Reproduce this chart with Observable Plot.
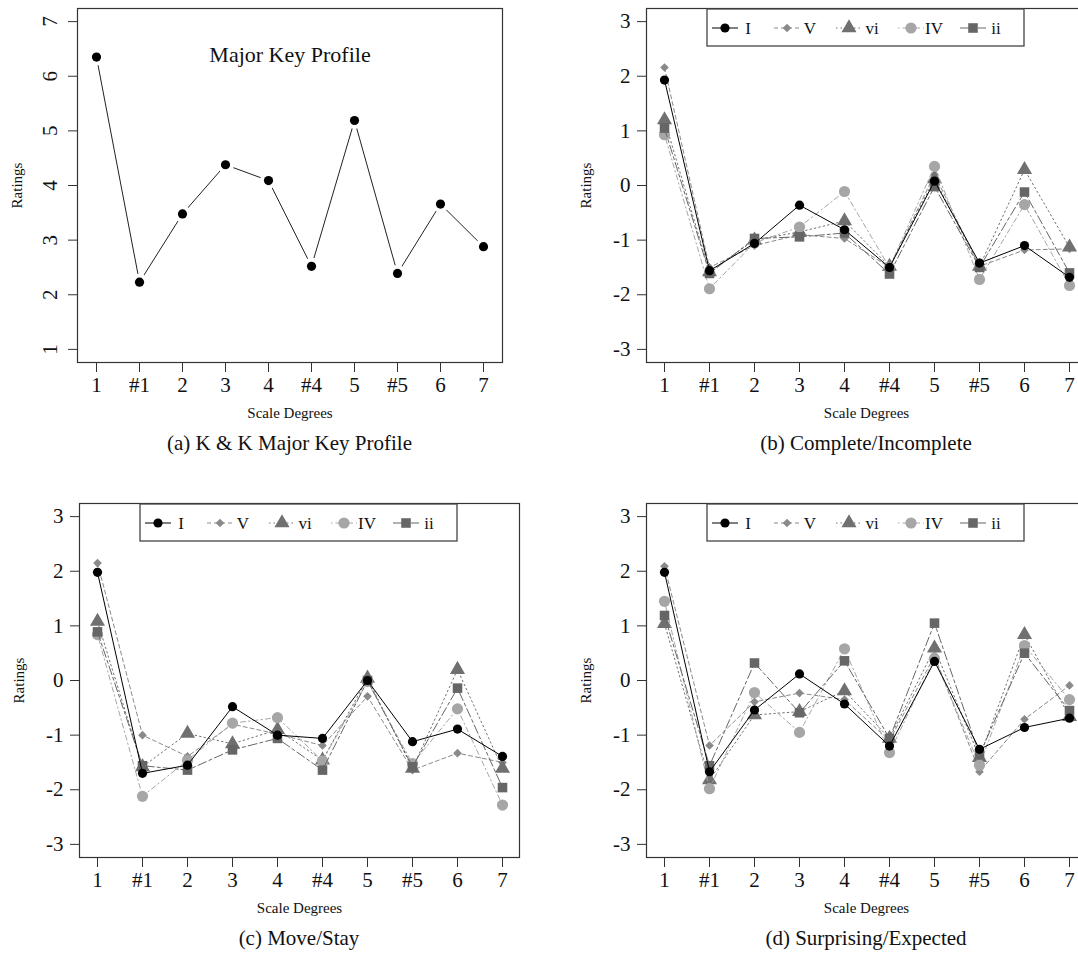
<!DOCTYPE html>
<html><head><meta charset="utf-8">
<script src="https://cdn.jsdelivr.net/npm/d3@7"></script>
<script src="https://cdn.jsdelivr.net/npm/@observablehq/plot@0.6"></script>
<style>
html,body{margin:0;padding:0;background:#fff;overflow:hidden;width:1078px;height:953px;}
#root{position:relative;width:1078px;height:953px;overflow:hidden;font-family:"Liberation Serif","Times New Roman",serif;color:#111;}
.panel{position:absolute;}
.panel svg{max-width:none !important;display:block;}
.cap{position:absolute;text-align:center;font-size:21px;line-height:24px;white-space:nowrap;width:440px;}
</style></head><body><div id="root"></div>
<script>
// ---------- data ----------
const degrees = ["1","#1","2","3","4","#4","5","#5","6","7"];
const seriesNames = ["I","V","vi","IV","ii"];

// (a) Krumhansl & Kessler major key profile
const kkMajor = [6.35, 2.23, 3.48, 4.38, 4.09, 2.52, 5.19, 2.39, 3.66, 2.88];

// (b) Complete/Incomplete
const completeI  = [1.93, -1.56, -1.06, -0.36, -0.81, -1.50,  0.08, -1.42, -1.10, -1.68];
const completeV  = [2.16, -1.50, -1.10, -0.90, -0.97, -1.50,  0.20, -1.48, -1.18, -1.16];
const completeVi = [1.20, -1.58, -1.00, -0.85, -0.65, -1.48,  0.12, -1.48,  0.29, -1.13];
const completeIV = [0.93, -1.89, -1.05, -0.76, -0.11, -1.50,  0.35, -1.72, -0.35, -1.83];
const completeIi = [1.05, -1.61, -0.97, -0.94, -0.87, -1.62, -0.02, -1.50, -0.12, -1.60];

// (c) Move/Stay
const moveI  = [1.98, -1.70, -1.55, -0.48, -1.00, -1.06,  0.00, -1.12, -0.89, -1.39];
const moveV  = [2.15, -1.00, -1.39, -0.80, -0.98, -1.19, -0.29, -1.64, -1.33, -1.50];
const moveVi = [1.08, -1.58, -0.97, -1.16, -0.90, -1.46,  0.04, -1.61,  0.20, -1.61];
const moveIV = [0.84, -2.12, -1.46, -0.78, -0.68, -1.47, -0.02, -1.52, -0.52, -2.28];
const moveIi = [0.89, -1.56, -1.64, -1.27, -1.06, -1.64,  0.00, -1.58, -0.14, -1.96];

// (d) Surprising/Expected
const surpI  = [1.98, -1.67, -0.54,  0.12, -0.43, -1.20, 0.35, -1.26, -0.86, -0.69];
const surpV  = [2.09, -1.19, -0.39, -0.23, -0.35, -1.10, 0.45, -1.67, -0.71, -0.09];
const surpVi = [1.04, -1.82, -0.63, -0.57, -0.19, -1.06, 0.59, -1.41,  0.84, -0.66];
const surpIV = [1.45, -1.98, -0.22, -0.95,  0.58, -1.32, 0.40, -1.55,  0.64, -0.35];
const surpIi = [1.19, -1.56,  0.32, -0.59,  0.36, -1.06, 1.05, -1.36,  0.50, -0.55];

const ticksA = [1, 2, 3, 4, 5, 6, 7];
const ticksBCD = [-3, -2, -1, 0, 1, 2, 3];

// ---------- styles ----------
const FONT = '"Liberation Serif","Times New Roman",serif';
const styles = {
  I:  {color: "#000000", symbol: "circle",   d3sym: d3.symbolCircle,   r: 4.6, dash: null},
  V:  {color: "#8a8a8a", symbol: "diamond2", d3sym: d3.symbolDiamond2, r: 3.9, dash: "4,3"},
  vi: {color: "#707070", symbol: "triangle", d3sym: d3.symbolTriangle, r: 5.6, dash: "1.5,3"},
  IV: {color: "#a6a6a6", symbol: "circle",   d3sym: d3.symbolCircle,   r: 5.6, dash: "1.5,3,5,3"},
  ii: {color: "#666666", symbol: "square",   d3sym: d3.symbolSquare,   r: 5.4, dash: "9,3,3,3"}
};
const drawOrder = ["V", "vi", "IV", "ii", "I"];

function table(values) {
  return degrees.map((d, i) => ({degree: d, rating: values[i]}));
}

const FRAME_W_A = 425, FRAME_W = 440, FRAME_H = 354, ML = 77, MT = 8, H = 430;

function basePlot({width, frameW, yDomain, yTicks, rotateY, marks}) {
  return Plot.plot({
    width, height: H,
    marginLeft: ML, marginRight: width - ML - frameW,
    marginTop: MT, marginBottom: H - MT - FRAME_H,
    style: {fontFamily: FONT, background: "transparent", color: "#111"},
    x: {type: "point", domain: degrees, padding: 0.36},
    y: {domain: yDomain},
    marks: [
      Plot.axisX({tickSize: 10, tickPadding: 5, fontSize: 21, label: null, stroke: "#333"}),
      Plot.axisY({ticks: yTicks, tickSize: 9, tickPadding: rotateY ? 12 : 7, fontSize: 21,
        tickRotate: rotateY ? -90 : 0, tickFormat: d => String(d), label: null, stroke: "#333"}),
      Plot.frame({stroke: "#333", strokeWidth: 1.2}),
      Plot.text(["Scale Degrees"], {frameAnchor: "bottom", lineAnchor: "middle", textAnchor: "middle",
        dy: 51, fontSize: 15, text: d => d}),
      Plot.text(["Ratings"], {frameAnchor: "left", lineAnchor: "middle", textAnchor: "middle",
        dx: -60, rotate: -90, fontSize: 15, text: d => d}),
      ...marks
    ]
  });
}

function addLegend(svg) {
  const g = d3.select(svg).append("g").attr("font-family", FONT);
  const x0 = ML + 61, y0 = MT + 1, w = 317, h = 37;
  g.append("rect").attr("x", x0).attr("y", y0).attr("width", w).attr("height", h)
    .attr("fill", "white").attr("stroke", "#444").attr("stroke-width", 1.3);
  seriesNames.forEach((name, i) => {
    const s = styles[name];
    const cx = x0 + 18 + 62 * i, cy = y0 + 19;
    g.append("line").attr("x1", cx - 13).attr("x2", cx + 13).attr("y1", cy).attr("y2", cy)
      .attr("stroke", s.color).attr("stroke-width", 1).attr("stroke-dasharray", s.dash);
    g.append("path").attr("transform", `translate(${cx},${cy})`)
      .attr("d", d3.symbol(s.d3sym, Math.PI * s.r * s.r)()).attr("fill", s.color);
    g.append("text").attr("x", cx + 23).attr("y", cy).attr("dy", "0.35em")
      .attr("font-size", 17).attr("fill", "#111").text(name);
  });
}

function seriesPanel(valuesBySeries) {
  const marks = [];
  for (const name of drawOrder) {
    const s = styles[name];
    const data = table(valuesBySeries[name]);
    marks.push(Plot.line(data, {x: "degree", y: "rating", stroke: s.color, strokeWidth: 1,
      strokeDasharray: s.dash || undefined}));
    marks.push(Plot.dot(data, {x: "degree", y: "rating", symbol: s.symbol, r: s.r, fill: s.color, stroke: "none"}));
  }
  const svg = basePlot({width: 560, frameW: FRAME_W, yDomain: [-3.24, 3.24], yTicks: ticksBCD, rotateY: false, marks});
  addLegend(svg);
  return svg;
}

const root = document.getElementById("root");
function place(el, left, top) {
  const d = document.createElement("div");
  d.className = "panel"; d.style.left = left + "px"; d.style.top = top + "px";
  d.style.width = el.getAttribute("width") + "px";
  d.appendChild(el); root.appendChild(d);
}
function caption(text, cx, cy) {
  const d = document.createElement("div");
  d.className = "cap"; d.textContent = text;
  d.style.left = (cx - 220) + "px"; d.style.top = (cy - 12) + "px";
  root.appendChild(d);
}

// (a)
const dataA = table(kkMajor);
const svgA = basePlot({
  width: 540, frameW: FRAME_W_A, yDomain: [0.76, 7.24], yTicks: ticksA, rotateY: true,
  marks: [
    Plot.line(dataA, {x: "degree", y: "rating", stroke: "#222", strokeWidth: 1}),
    Plot.dot(dataA, {x: "degree", y: "rating", r: 8.5, fill: "white", stroke: "none"}),
    Plot.dot(dataA, {x: "degree", y: "rating", r: 4.6, fill: "black", stroke: "none"}),
    Plot.text(["Major Key Profile"], {frameAnchor: "top", lineAnchor: "middle", textAnchor: "middle",
      dy: 46, fontSize: 22, text: d => d})
  ]
});
place(svgA, 0, 0);

place(seriesPanel({I: completeI, V: completeV, vi: completeVi, IV: completeIV, ii: completeIi}), 569, 0);
place(seriesPanel({I: moveI, V: moveV, vi: moveVi, IV: moveIV, ii: moveIi}), 2, 495);
place(seriesPanel({I: surpI, V: surpV, vi: surpVi, IV: surpIV, ii: surpIi}), 569, 495);

caption("(a) K & K Major Key Profile", 289.5, 443);
caption("(b) Complete/Incomplete", 866, 443);
caption("(c) Move/Stay", 299, 938);
caption("(d) Surprising/Expected", 866, 938);
</script></body></html>
